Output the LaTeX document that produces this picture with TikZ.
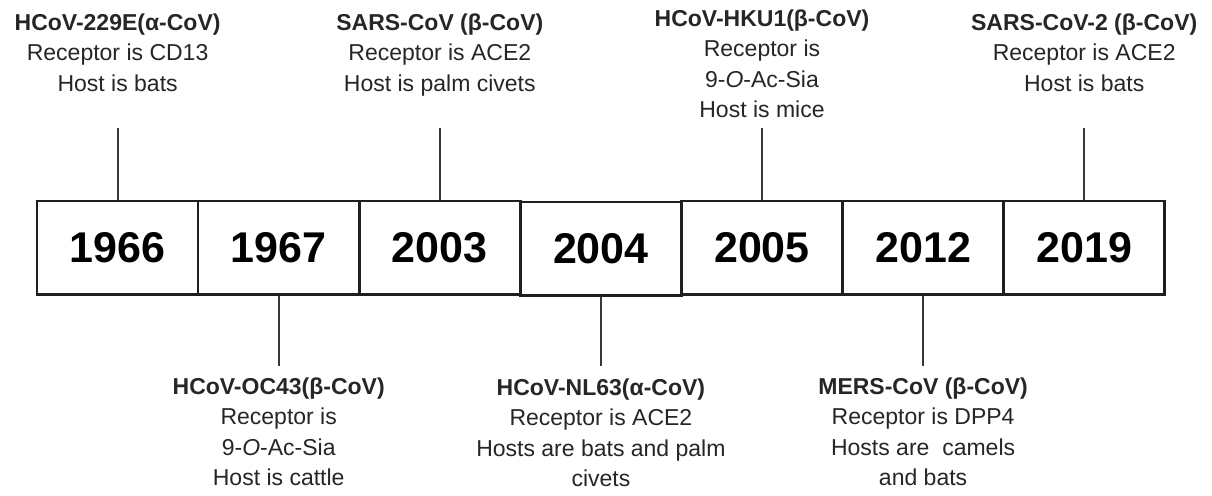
\documentclass[tikz,border=0pt]{standalone}
\usepackage{fontspec}
\setmainfont{Liberation Sans}
\begin{document}
\begin{tikzpicture}[x=1pt,y=-1pt,
  yearbox/.style={draw=black!88,line width=2.6pt,minimum width=161.1pt,minimum height=93.5pt,inner sep=0pt,font=\fontsize{43}{50}\selectfont\bfseries,text=black},
  info/.style={align=center,anchor=base,inner sep=0pt,font=\fontsize{23}{30.5}\selectfont,text=black!85},
  conn/.style={draw=black!78,line width=2.2pt}]
\useasboundingbox (0,0) rectangle (1212,495);
\fill[white] (0,0) rectangle (1212,495);
% year boxes
\node[yearbox] (y1966) at (117.6,247.75) {1966};
\node[yearbox] (y1967) at (278.7,247.75) {1967};
\node[yearbox] (y2003) at (439.8,247.75) {2003};
\node[yearbox] (y2004) at (600.9,248.75) {2004};
\node[yearbox] (y2005) at (762.0,247.75) {2005};
\node[yearbox] (y2012) at (923.1,247.75) {2012};
\node[yearbox] (y2019) at (1084.2,247.75) {2019};
% labels above (anchor = baseline of last line)
\node[info] (t229E) at (117.6,91) {\textbf{HCoV-229E(α-CoV)}\\Receptor is CD13\\Host is bats};
\node[info] (tSARS) at (439.8,91) {\textbf{SARS-CoV (β-CoV)}\\Receptor is ACE2\\Host is palm civets};
\node[info] (tHKU1) at (762.0,117.5) {\textbf{HCoV-HKU1(β-CoV)}\\Receptor is\\9-\textit{O}-Ac-Sia\\Host is mice};
\node[info] (tSARS2) at (1084.2,91) {\textbf{SARS-CoV-2 (β-CoV)}\\Receptor is ACE2\\Host is bats};
% labels below
\node[info] (tOC43) at (278.7,485.5) {\textbf{HCoV-OC43(β-CoV)}\\Receptor is\\9-\textit{O}-Ac-Sia\\Host is cattle};
\node[info] (tNL63) at (600.9,486.5) {\textbf{HCoV-NL63(α-CoV)}\\Receptor is ACE2\\Hosts are bats and palm\\civets};
\node[info] (tMERS) at (923.1,485.5) {\textbf{MERS-CoV (β-CoV)}\\Receptor is DPP4\\Hosts are\ \ camels\\and bats};
% connector ends
\coordinate (e229E) at (117.6,128);
\coordinate (eSARS) at (439.8,128);
\coordinate (eHKU1) at (762.0,128);
\coordinate (eSARS2) at (1084.2,128);
\coordinate (eOC43) at (278.7,366);
\coordinate (eNL63) at (600.9,366);
\coordinate (eMERS) at (923.1,366);
\draw[conn] (y1966.north) -- (e229E);
\draw[conn] (y2003.north) -- (eSARS);
\draw[conn] (y2005.north) -- (eHKU1);
\draw[conn] (y2019.north) -- (eSARS2);
\draw[conn] (y1967.south) -- (eOC43);
\draw[conn] (y2004.south) -- (eNL63);
\draw[conn] (y2012.south) -- (eMERS);
\end{tikzpicture}
\end{document}
